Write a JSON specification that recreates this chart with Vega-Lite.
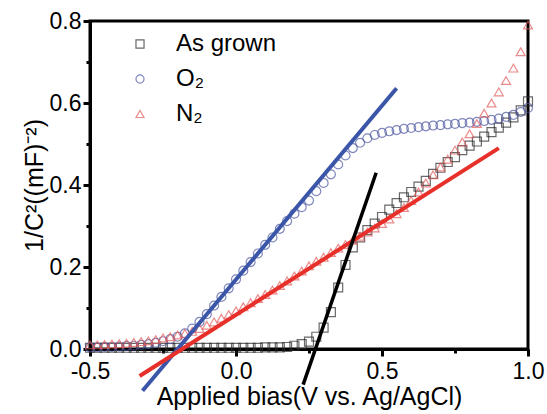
{
  "$schema": "https://vega.github.io/schema/vega-lite/v6.json",
  "width": 438,
  "height": 328,
  "autosize": {"type": "none"},
  "padding": {"left": 90, "top": 21, "right": 19, "bottom": 65},
  "background": "white",
  "config": {
    "font": "Liberation Sans",
    "view": {"stroke": "black", "strokeWidth": 3},
    "axis": {
      "domainColor": "black", "domainWidth": 3, "tickColor": "black", "tickWidth": 3,
      "labelColor": "black", "labelFontSize": 23, "titleColor": "black", "titleFontSize": 24,
      "titleFontWeight": "normal", "grid": false, "labelFont": "Liberation Sans", "titleFont": "Liberation Sans"
    },
    "legend": {"labelFont": "Liberation Sans"}
  },
  "datasets": {
    "pts": [
      {"s":"As grown","x":-0.5,"y":0.003},{"s":"As grown","x":-0.475,"y":0.003},{"s":"As grown","x":-0.45,"y":0.003},{"s":"As grown","x":-0.425,"y":0.003},{"s":"As grown","x":-0.4,"y":0.003},{"s":"As grown","x":-0.375,"y":0.003},{"s":"As grown","x":-0.35,"y":0.003},{"s":"As grown","x":-0.325,"y":0.003},{"s":"As grown","x":-0.3,"y":0.003},{"s":"As grown","x":-0.275,"y":0.003},{"s":"As grown","x":-0.25,"y":0.003},{"s":"As grown","x":-0.225,"y":0.003},{"s":"As grown","x":-0.2,"y":0.003},{"s":"As grown","x":-0.175,"y":0.003},{"s":"As grown","x":-0.15,"y":0.003},{"s":"As grown","x":-0.125,"y":0.003},{"s":"As grown","x":-0.1,"y":0.003},{"s":"As grown","x":-0.075,"y":0.003},{"s":"As grown","x":-0.05,"y":0.003},{"s":"As grown","x":-0.025,"y":0.003},{"s":"As grown","x":0.0,"y":0.003},{"s":"As grown","x":0.025,"y":0.003},{"s":"As grown","x":0.05,"y":0.003},{"s":"As grown","x":0.075,"y":0.003},{"s":"As grown","x":0.1,"y":0.004},{"s":"As grown","x":0.125,"y":0.004},{"s":"As grown","x":0.15,"y":0.004},{"s":"As grown","x":0.175,"y":0.005},{"s":"As grown","x":0.2,"y":0.008},{"s":"As grown","x":0.225,"y":0.012},{"s":"As grown","x":0.25,"y":0.018},{"s":"As grown","x":0.275,"y":0.03},{"s":"As grown","x":0.3,"y":0.052},{"s":"As grown","x":0.325,"y":0.09},{"s":"As grown","x":0.35,"y":0.15},{"s":"As grown","x":0.375,"y":0.205},{"s":"As grown","x":0.4,"y":0.248},{"s":"As grown","x":0.425,"y":0.272},{"s":"As grown","x":0.45,"y":0.29},{"s":"As grown","x":0.475,"y":0.306},{"s":"As grown","x":0.5,"y":0.322},{"s":"As grown","x":0.525,"y":0.34},{"s":"As grown","x":0.55,"y":0.356},{"s":"As grown","x":0.575,"y":0.37},{"s":"As grown","x":0.6,"y":0.383},{"s":"As grown","x":0.625,"y":0.396},{"s":"As grown","x":0.65,"y":0.41},{"s":"As grown","x":0.675,"y":0.427},{"s":"As grown","x":0.7,"y":0.442},{"s":"As grown","x":0.725,"y":0.456},{"s":"As grown","x":0.75,"y":0.468},{"s":"As grown","x":0.775,"y":0.485},{"s":"As grown","x":0.8,"y":0.496},{"s":"As grown","x":0.825,"y":0.506},{"s":"As grown","x":0.85,"y":0.518},{"s":"As grown","x":0.875,"y":0.529},{"s":"As grown","x":0.9,"y":0.54},{"s":"As grown","x":0.925,"y":0.552},{"s":"As grown","x":0.95,"y":0.565},{"s":"As grown","x":0.975,"y":0.582},{"s":"As grown","x":1.0,"y":0.604},

      {"s":"O₂","x":-0.5,"y":0.004},{"s":"O₂","x":-0.475,"y":0.004},{"s":"O₂","x":-0.45,"y":0.005},{"s":"O₂","x":-0.425,"y":0.005},{"s":"O₂","x":-0.4,"y":0.006},{"s":"O₂","x":-0.375,"y":0.007},{"s":"O₂","x":-0.35,"y":0.008},{"s":"O₂","x":-0.325,"y":0.01},{"s":"O₂","x":-0.3,"y":0.012},{"s":"O₂","x":-0.275,"y":0.015},{"s":"O₂","x":-0.25,"y":0.019},{"s":"O₂","x":-0.225,"y":0.024},{"s":"O₂","x":-0.2,"y":0.03},{"s":"O₂","x":-0.175,"y":0.038},{"s":"O₂","x":-0.15,"y":0.05},{"s":"O₂","x":-0.125,"y":0.066},{"s":"O₂","x":-0.1,"y":0.085},{"s":"O₂","x":-0.075,"y":0.106},{"s":"O₂","x":-0.05,"y":0.127},{"s":"O₂","x":-0.025,"y":0.148},{"s":"O₂","x":0.0,"y":0.17},{"s":"O₂","x":0.025,"y":0.191},{"s":"O₂","x":0.05,"y":0.212},{"s":"O₂","x":0.075,"y":0.233},{"s":"O₂","x":0.1,"y":0.254},{"s":"O₂","x":0.125,"y":0.272},{"s":"O₂","x":0.15,"y":0.293},{"s":"O₂","x":0.175,"y":0.312},{"s":"O₂","x":0.2,"y":0.33},{"s":"O₂","x":0.225,"y":0.346},{"s":"O₂","x":0.25,"y":0.362},{"s":"O₂","x":0.275,"y":0.385},{"s":"O₂","x":0.3,"y":0.405},{"s":"O₂","x":0.325,"y":0.426},{"s":"O₂","x":0.35,"y":0.45},{"s":"O₂","x":0.375,"y":0.472},{"s":"O₂","x":0.4,"y":0.49},{"s":"O₂","x":0.425,"y":0.503},{"s":"O₂","x":0.45,"y":0.514},{"s":"O₂","x":0.475,"y":0.522},{"s":"O₂","x":0.5,"y":0.527},{"s":"O₂","x":0.525,"y":0.531},{"s":"O₂","x":0.55,"y":0.534},{"s":"O₂","x":0.575,"y":0.537},{"s":"O₂","x":0.6,"y":0.539},{"s":"O₂","x":0.625,"y":0.541},{"s":"O₂","x":0.65,"y":0.543},{"s":"O₂","x":0.675,"y":0.545},{"s":"O₂","x":0.7,"y":0.546},{"s":"O₂","x":0.725,"y":0.548},{"s":"O₂","x":0.75,"y":0.549},{"s":"O₂","x":0.775,"y":0.551},{"s":"O₂","x":0.8,"y":0.552},{"s":"O₂","x":0.825,"y":0.554},{"s":"O₂","x":0.85,"y":0.556},{"s":"O₂","x":0.875,"y":0.559},{"s":"O₂","x":0.9,"y":0.562},{"s":"O₂","x":0.925,"y":0.566},{"s":"O₂","x":0.95,"y":0.571},{"s":"O₂","x":0.975,"y":0.578},{"s":"O₂","x":1.0,"y":0.588},

      {"s":"N₂","x":-0.5,"y":0.01},{"s":"N₂","x":-0.475,"y":0.01},{"s":"N₂","x":-0.45,"y":0.011},{"s":"N₂","x":-0.425,"y":0.012},{"s":"N₂","x":-0.4,"y":0.013},{"s":"N₂","x":-0.375,"y":0.014},{"s":"N₂","x":-0.35,"y":0.016},{"s":"N₂","x":-0.325,"y":0.018},{"s":"N₂","x":-0.3,"y":0.02},{"s":"N₂","x":-0.275,"y":0.023},{"s":"N₂","x":-0.25,"y":0.027},{"s":"N₂","x":-0.225,"y":0.03},{"s":"N₂","x":-0.2,"y":0.034},{"s":"N₂","x":-0.175,"y":0.038},{"s":"N₂","x":-0.15,"y":0.043},{"s":"N₂","x":-0.125,"y":0.05},{"s":"N₂","x":-0.1,"y":0.058},{"s":"N₂","x":-0.075,"y":0.066},{"s":"N₂","x":-0.05,"y":0.075},{"s":"N₂","x":-0.025,"y":0.084},{"s":"N₂","x":0.0,"y":0.093},{"s":"N₂","x":0.025,"y":0.103},{"s":"N₂","x":0.05,"y":0.113},{"s":"N₂","x":0.075,"y":0.123},{"s":"N₂","x":0.1,"y":0.133},{"s":"N₂","x":0.125,"y":0.144},{"s":"N₂","x":0.15,"y":0.155},{"s":"N₂","x":0.175,"y":0.166},{"s":"N₂","x":0.2,"y":0.178},{"s":"N₂","x":0.225,"y":0.19},{"s":"N₂","x":0.25,"y":0.203},{"s":"N₂","x":0.275,"y":0.214},{"s":"N₂","x":0.3,"y":0.224},{"s":"N₂","x":0.325,"y":0.235},{"s":"N₂","x":0.35,"y":0.246},{"s":"N₂","x":0.375,"y":0.255},{"s":"N₂","x":0.4,"y":0.265},{"s":"N₂","x":0.425,"y":0.275},{"s":"N₂","x":0.45,"y":0.285},{"s":"N₂","x":0.475,"y":0.295},{"s":"N₂","x":0.5,"y":0.306},{"s":"N₂","x":0.525,"y":0.317},{"s":"N₂","x":0.55,"y":0.33},{"s":"N₂","x":0.575,"y":0.345},{"s":"N₂","x":0.6,"y":0.362},{"s":"N₂","x":0.625,"y":0.383},{"s":"N₂","x":0.65,"y":0.405},{"s":"N₂","x":0.675,"y":0.425},{"s":"N₂","x":0.7,"y":0.444},{"s":"N₂","x":0.725,"y":0.463},{"s":"N₂","x":0.75,"y":0.485},{"s":"N₂","x":0.775,"y":0.505},{"s":"N₂","x":0.8,"y":0.525},{"s":"N₂","x":0.825,"y":0.55},{"s":"N₂","x":0.85,"y":0.575},{"s":"N₂","x":0.875,"y":0.6},{"s":"N₂","x":0.9,"y":0.627},{"s":"N₂","x":0.925,"y":0.655},{"s":"N₂","x":0.95,"y":0.685},{"s":"N₂","x":0.975,"y":0.725},{"s":"N₂","x":1.0,"y":0.79}
    ],
    "fits": [
      {"fit":"As grown","x":0.23,"y":-0.087},{"fit":"As grown","x":0.48,"y":0.43},
      {"fit":"O₂","x":-0.32,"y":-0.102},{"fit":"O₂","x":0.55,"y":0.636},
      {"fit":"N₂","x":-0.33,"y":-0.066},{"fit":"N₂","x":0.9,"y":0.49}
    ]
  },
  "encoding": {
    "x": {
      "field": "x", "type": "quantitative",
      "scale": {"domain": [-0.5, 1.0], "nice": false, "zero": false},
      "axis": {
        "values": [-0.5, -0.25, 0, 0.25, 0.5, 0.75, 1.0],
        "labelExpr": "abs(datum.value*2-round(datum.value*2))<0.001 ? replace(format(datum.value,'.1f'),'−','-') : ''",
        "tickSize": {"condition": {"test": "abs(datum.value*2-round(datum.value*2))<0.001", "value": 7}, "value": 4},
        "labelPadding": 4, "labelFlush": false, "labelOverlap": false,
        "title": "Applied bias(V vs. Ag/AgCl)", "titlePadding": 1, "titleFontSize": 25
      }
    },
    "y": {
      "field": "y", "type": "quantitative",
      "scale": {"domain": [0, 0.8], "nice": false, "zero": false},
      "axis": {
        "values": [0, 0.1, 0.2, 0.3, 0.4, 0.5, 0.6, 0.7, 0.8],
        "labelExpr": "abs(datum.value*5-round(datum.value*5))<0.001 ? format(datum.value,'.1f') : ''",
        "tickSize": {"condition": {"test": "abs(datum.value*5-round(datum.value*5))<0.001", "value": 7}, "value": 4},
        "labelPadding": 2, "labelFlush": false, "labelOverlap": false,
        "title": "1/C²((mF)⁻²)", "titlePadding": 2, "titleFontSize": 25
      }
    }
  },
  "layer": [
    {
      "data": {"name": "pts"},
      "mark": {"type": "point", "filled": false, "strokeWidth": 1.2, "size": 80, "clip": false},
      "encoding": {
        "shape": {
          "field": "s", "type": "nominal",
          "scale": {"domain": ["As grown", "O₂", "N₂"], "range": ["square", "circle", "triangle-up"]},
          "legend": {"orient": "none", "legendX": 38, "legendY": 11, "title": null, "labelFontSize": 24, "symbolSize": 65, "symbolStrokeWidth": 1.2, "rowPadding": 11, "labelOffset": 24, "padding": 0, "labelColor": "black"}
        },
        "color": {
          "field": "s", "type": "nominal",
          "scale": {"domain": ["As grown", "O₂", "N₂"], "range": ["#2b2b2b", "#4c57a0", "#e25b5b"]},
          "legend": {"orient": "none", "legendX": 38, "legendY": 11, "title": null, "labelFontSize": 24, "symbolSize": 65, "symbolStrokeWidth": 1.2, "rowPadding": 11, "labelOffset": 24, "padding": 0, "labelColor": "black"}
        }
      }
    },
    {
      "data": {"name": "fits"},
      "transform": [{"filter": "datum.fit === 'O₂'"}],
      "mark": {"type": "line", "color": "#3b55a8", "strokeWidth": 4, "clip": false},
      "encoding": {}
    },
    {
      "data": {"name": "fits"},
      "transform": [{"filter": "datum.fit === 'N₂'"}],
      "mark": {"type": "line", "color": "#e8302b", "strokeWidth": 4, "clip": false},
      "encoding": {}
    },
    {
      "data": {"name": "fits"},
      "transform": [{"filter": "datum.fit === 'As grown'"}],
      "mark": {"type": "line", "color": "#000000", "strokeWidth": 3.5, "clip": false},
      "encoding": {}
    }
  ]
}
